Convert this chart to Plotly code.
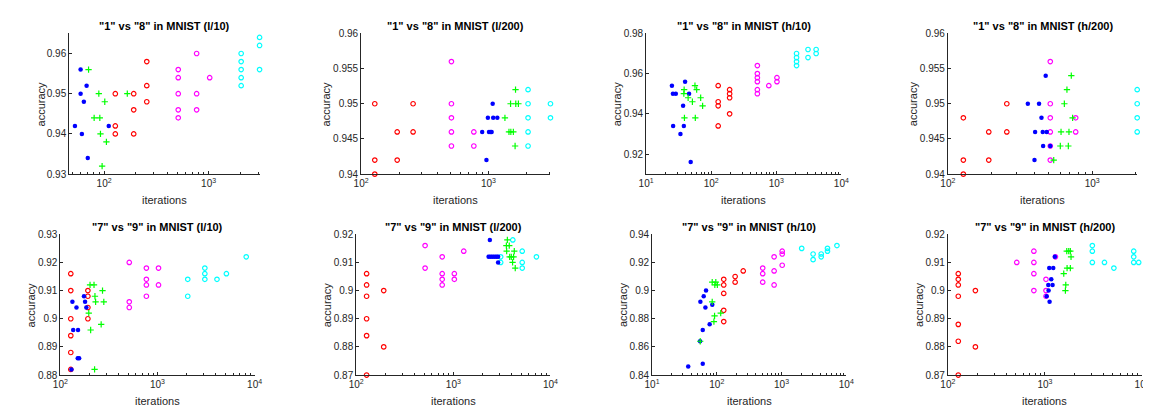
import math
import plotly.graph_objects as go

# ---------------- data ----------------
TITLES = [
    '"1" vs "8" in MNIST (l/10)', '"1" vs "8" in MNIST (l/200)',
    '"1" vs "8" in MNIST (h/10)', '"1" vs "8" in MNIST (h/200)',
    '"7" vs "9" in MNIST (l/10)', '"7" vs "9" in MNIST (l/200)',
    '"7" vs "9" in MNIST (h/10)', '"7" vs "9" in MNIST (h/200)',
]
X_LABEL = "iterations"
Y_LABEL = "accuracy"

# panel 1
P1_BLUE_X = [46.4, 59.6, 68, 59.6, 64, 52.6, 61.3, 69.8, 110.8]
P1_BLUE_Y = [0.956, 0.956, 0.952, 0.950, 0.948, 0.942, 0.940, 0.934, 0.942]
P1_GREEN_X = [71, 89, 101.5, 166.7, 80.3, 91, 92.3, 105.2, 95.7]
P1_GREEN_Y = [0.956, 0.950, 0.948, 0.950, 0.944, 0.944, 0.940, 0.938, 0.932]
P1_RED_X = [128, 128, 128, 192, 192, 192, 256, 256, 256]
P1_RED_Y = [0.950, 0.942, 0.940, 0.950, 0.946, 0.940, 0.958, 0.952, 0.948]
P1_MAG_X = [512, 512, 512, 512, 512, 768, 768, 768, 1024]
P1_MAG_Y = [0.956, 0.954, 0.950, 0.946, 0.944, 0.960, 0.950, 0.946, 0.954]
P1_CYAN_X = [2048, 2048, 2048, 2048, 2048, 3072, 3072, 3072]
P1_CYAN_Y = [0.960, 0.958, 0.956, 0.954, 0.952, 0.964, 0.962, 0.956]

# panel 2
P2_BLUE_X = [1080, 990, 1090, 1175, 893, 1010, 1040, 1060, 965]
P2_BLUE_Y = [0.950, 0.948, 0.948, 0.948, 0.946, 0.946, 0.946, 0.946, 0.942]
P2_GREEN_X = [1633, 1493, 1640, 1720, 1348, 1450, 1500, 1570, 1620]
P2_GREEN_Y = [0.952, 0.950, 0.950, 0.950, 0.948, 0.946, 0.946, 0.946, 0.944]
P2_RED_X = [128, 128, 128, 192, 192, 256, 256]
P2_RED_Y = [0.950, 0.942, 0.940, 0.946, 0.942, 0.950, 0.946]
P2_MAG_X = [512, 512, 512, 512, 512, 768, 768]
P2_MAG_Y = [0.956, 0.950, 0.948, 0.946, 0.944, 0.946, 0.944]
P2_CYAN_X = [2048, 2048, 2048, 2048, 2048, 3072, 3072]
P2_CYAN_Y = [0.952, 0.950, 0.948, 0.946, 0.944, 0.950, 0.948]

# panel 3
P3_BLUE_X = [24.9, 25.8, 28.6, 39.7, 45.7, 37, 26, 38, 33.7, 48.4]
P3_BLUE_Y = [0.954, 0.950, 0.950, 0.956, 0.950, 0.944, 0.934, 0.934, 0.930, 0.916]
P3_GREEN_X = [56.3, 38.4, 59.8, 38, 44.2, 68.9, 51.4, 73.8, 38.8, 57]
P3_GREEN_Y = [0.954, 0.952, 0.952, 0.950, 0.948, 0.948, 0.946, 0.944, 0.938, 0.938]
P3_RED_X = [128, 128, 128, 128, 192, 192, 192, 192]
P3_RED_Y = [0.954, 0.946, 0.944, 0.934, 0.952, 0.950, 0.948, 0.940]
P3_MAG_X = [512, 512, 512, 512, 512, 512, 768, 1024, 1024]
P3_MAG_Y = [0.964, 0.960, 0.958, 0.956, 0.952, 0.950, 0.954, 0.958, 0.956]
P3_CYAN_X = [2048, 2048, 2048, 2048, 3072, 3072, 4096, 4096]
P3_CYAN_Y = [0.970, 0.968, 0.966, 0.964, 0.972, 0.968, 0.972, 0.970]

# panel 4
P4_BLUE_X = [476, 358, 428, 445, 402, 454, 484, 457, 512, 398]
P4_BLUE_Y = [0.954, 0.950, 0.950, 0.948, 0.946, 0.946, 0.946, 0.944, 0.944, 0.942]
P4_GREEN_X = [716, 668, 641, 731, 608, 690, 601, 683, 541]
P4_GREEN_Y = [0.954, 0.952, 0.950, 0.948, 0.946, 0.946, 0.944, 0.944, 0.942]
P4_RED_X = [128, 128, 128, 192, 192, 256, 256]
P4_RED_Y = [0.948, 0.942, 0.940, 0.946, 0.942, 0.950, 0.946]
P4_MAG_X = [512, 512, 512, 512, 512, 512, 768, 768]
P4_MAG_Y = [0.956, 0.950, 0.948, 0.946, 0.944, 0.942, 0.948, 0.946]
P4_CYAN_X = [2048, 2048, 2048, 2048]
P4_CYAN_Y = [0.952, 0.950, 0.948, 0.946]

# panel 5
P5_BLUE_X = [133, 146.5, 135.5, 152, 151, 156, 130, 175, 179.6, 185]
P5_BLUE_Y = [0.906, 0.904, 0.896, 0.896, 0.886, 0.886, 0.882, 0.908, 0.906, 0.904]
P5_GREEN_X = [202, 222, 271.6, 227, 230.6, 280, 196, 263, 205, 225]
P5_GREEN_Y = [0.912, 0.912, 0.910, 0.908, 0.906, 0.906, 0.902, 0.898, 0.896, 0.882]
P5_RED_X = [128, 128, 128, 128, 128, 128, 192, 192, 192, 192]
P5_RED_Y = [0.916, 0.910, 0.900, 0.894, 0.888, 0.882, 0.910, 0.908, 0.904, 0.900]
P5_MAG_X = [512, 512, 512, 768, 768, 768, 768, 1024, 1024]
P5_MAG_Y = [0.920, 0.906, 0.904, 0.918, 0.914, 0.912, 0.908, 0.918, 0.912]
P5_CYAN_X = [2048, 2048, 3072, 3072, 3072, 4096, 5120, 8192]
P5_CYAN_Y = [0.914, 0.908, 0.918, 0.916, 0.914, 0.914, 0.916, 0.922]

# panel 6
P6_BLUE_X = [2377, 2306, 2417, 2530, 2652, 2780, 2890, 2890]
P6_BLUE_Y = [0.918, 0.912, 0.912, 0.912, 0.912, 0.912, 0.912, 0.910]
P6_GREEN_X = [3600, 3515, 3765, 3540, 4240, 3800, 3950, 4170, 4074, 4340]
P6_GREEN_Y = [0.918, 0.916, 0.916, 0.914, 0.914, 0.912, 0.912, 0.912, 0.910, 0.908]
P6_RED_X = [128, 128, 128, 128, 128, 128, 192, 192]
P6_RED_Y = [0.906, 0.902, 0.898, 0.890, 0.884, 0.870, 0.900, 0.880]
P6_MAG_X = [512, 512, 768, 768, 768, 768, 1024, 1024, 1280]
P6_MAG_Y = [0.916, 0.908, 0.912, 0.906, 0.904, 0.902, 0.906, 0.904, 0.914]
P6_CYAN_X = [3072, 3072, 4096, 5120, 5120, 5120, 7168]
P6_CYAN_Y = [0.912, 0.910, 0.918, 0.914, 0.910, 0.908, 0.912]

# panel 7
P7_BLUE_X = [36.2, 60.7, 60.7, 55.8, 62.8, 68.2, 66.7, 77.6, 85.2, 55.2]
P7_BLUE_Y = [0.846, 0.848, 0.872, 0.892, 0.896, 0.900, 0.888, 0.876, 0.890, 0.864]
P7_GREEN_X = [55.5, 85, 85, 96.6, 93.3, 102, 92.4, 90.3, 115]
P7_GREEN_Y = [0.864, 0.892, 0.906, 0.906, 0.904, 0.904, 0.882, 0.878, 0.884]
P7_RED_X = [128, 128, 128, 128, 128, 192, 192, 256]
P7_RED_Y = [0.908, 0.904, 0.898, 0.886, 0.878, 0.910, 0.906, 0.914]
P7_MAG_X = [512, 512, 512, 768, 768, 768, 1024, 1024, 1024]
P7_MAG_Y = [0.916, 0.912, 0.906, 0.924, 0.914, 0.904, 0.928, 0.926, 0.918]
P7_CYAN_X = [2048, 3072, 3072, 4096, 4096, 5120, 5120, 7168]
P7_CYAN_Y = [0.930, 0.926, 0.922, 0.926, 0.924, 0.930, 0.928, 0.932]

# panel 8
P8_BLUE_X = [1264, 1106, 1216, 1160, 1081, 1197, 1089, 1040, 1115]
P8_BLUE_Y = [0.912, 0.908, 0.908, 0.904, 0.902, 0.902, 0.900, 0.898, 0.896]
P8_GREEN_X = [1675, 1755, 1824, 1854, 1688, 1824, 1560, 1636, 1622]
P8_GREEN_Y = [0.914, 0.914, 0.914, 0.912, 0.908, 0.908, 0.906, 0.902, 0.900]
P8_RED_X = [128, 128, 128, 128, 128, 128, 128, 192, 192]
P8_RED_Y = [0.906, 0.904, 0.902, 0.898, 0.888, 0.882, 0.870, 0.900, 0.880]
P8_MAG_X = [512, 768, 768, 768, 768, 1024, 1024, 1024, 1280]
P8_MAG_Y = [0.910, 0.914, 0.910, 0.906, 0.900, 0.904, 0.900, 0.898, 0.912]
P8_CYAN_X = [3072, 3072, 3072, 4096, 5120, 8192, 8192, 8192, 9216]
P8_CYAN_Y = [0.916, 0.914, 0.910, 0.910, 0.908, 0.914, 0.912, 0.910, 0.910]

# axis limits and ticks per panel
X_LIMITS = [(46.4, 3072), (100, 3072), (10, 10000), (100, 2048),
            (100, 10000), (100, 10000), (10, 10000), (100, 10000)]
Y_LIMITS = [(0.93, 0.965), (0.94, 0.96), (0.91, 0.98), (0.94, 0.96),
            (0.88, 0.93), (0.87, 0.92), (0.84, 0.94), (0.87, 0.92)]
Y_TICKS = [
    [0.93, 0.94, 0.95, 0.96],
    [0.94, 0.945, 0.95, 0.955, 0.96],
    [0.92, 0.94, 0.96, 0.98],
    [0.94, 0.945, 0.95, 0.955, 0.96],
    [0.88, 0.89, 0.9, 0.91, 0.92, 0.93],
    [0.87, 0.88, 0.89, 0.9, 0.91, 0.92],
    [0.84, 0.86, 0.88, 0.9, 0.92, 0.94],
    [0.87, 0.88, 0.89, 0.9, 0.91, 0.92],
]
X_TICK_EXPONENTS = [1, 2, 3, 4]

PANEL_SERIES = [
    (P1_BLUE_X, P1_BLUE_Y, P1_GREEN_X, P1_GREEN_Y, P1_RED_X, P1_RED_Y, P1_MAG_X, P1_MAG_Y, P1_CYAN_X, P1_CYAN_Y),
    (P2_BLUE_X, P2_BLUE_Y, P2_GREEN_X, P2_GREEN_Y, P2_RED_X, P2_RED_Y, P2_MAG_X, P2_MAG_Y, P2_CYAN_X, P2_CYAN_Y),
    (P3_BLUE_X, P3_BLUE_Y, P3_GREEN_X, P3_GREEN_Y, P3_RED_X, P3_RED_Y, P3_MAG_X, P3_MAG_Y, P3_CYAN_X, P3_CYAN_Y),
    (P4_BLUE_X, P4_BLUE_Y, P4_GREEN_X, P4_GREEN_Y, P4_RED_X, P4_RED_Y, P4_MAG_X, P4_MAG_Y, P4_CYAN_X, P4_CYAN_Y),
    (P5_BLUE_X, P5_BLUE_Y, P5_GREEN_X, P5_GREEN_Y, P5_RED_X, P5_RED_Y, P5_MAG_X, P5_MAG_Y, P5_CYAN_X, P5_CYAN_Y),
    (P6_BLUE_X, P6_BLUE_Y, P6_GREEN_X, P6_GREEN_Y, P6_RED_X, P6_RED_Y, P6_MAG_X, P6_MAG_Y, P6_CYAN_X, P6_CYAN_Y),
    (P7_BLUE_X, P7_BLUE_Y, P7_GREEN_X, P7_GREEN_Y, P7_RED_X, P7_RED_Y, P7_MAG_X, P7_MAG_Y, P7_CYAN_X, P7_CYAN_Y),
    (P8_BLUE_X, P8_BLUE_Y, P8_GREEN_X, P8_GREEN_Y, P8_RED_X, P8_RED_Y, P8_MAG_X, P8_MAG_Y, P8_CYAN_X, P8_CYAN_Y),
]

# ---------------- layout (pixels) ----------------
W, H = 1151, 407
# (left, right, top, bottom) of each plot area in pixels
BOXES = [
    (54, 247, 20, 165), (350, 542, 20, 165), (639, 837, 20, 165), (945, 1137, 20, 165),
    (45, 242, 227, 372), (345, 542, 227, 372), (645, 842, 227, 372), (945, 1142, 227, 372),
]
YLABEL_X = [25, 314, 609, 909, 15, 315, 615, 915]

FONT = "Liberation Sans, Arial, Helvetica, sans-serif"
INK = "#262626"


def fx(px):
    return px / W


def fy(py):
    return 1 - py / H


fig = go.Figure()
annotations = []
layout = {}

for i in range(8):
    n = i + 1
    xs = "x" if n == 1 else f"x{n}"
    ys = "y" if n == 1 else f"y{n}"
    bx, by_, gx, gy, rx, ry, mx, my, cx, cy = PANEL_SERIES[i]
    open_specs = [(rx, ry, "#FF0000"), (mx, my, "#FF00FF"), (cx, cy, "#00FFFF")]
    for sx, sy, col in open_specs:
        fig.add_trace(go.Scatter(
            x=sx, y=sy, mode="markers", xaxis=xs, yaxis=ys, showlegend=False, cliponaxis=False,
            marker=dict(symbol="circle-open", size=4.5, color=col, line=dict(width=1.2, color=col)),
        ))
    fig.add_trace(go.Scatter(
        x=bx, y=by_, mode="markers", xaxis=xs, yaxis=ys, showlegend=False, cliponaxis=False,
        marker=dict(symbol="circle", size=4.5, color="#0000FF", line=dict(width=0)),
    ))
    fig.add_trace(go.Scatter(
        x=gx, y=gy, mode="markers", xaxis=xs, yaxis=ys, showlegend=False, cliponaxis=False,
        marker=dict(symbol="cross-thin-open", size=4.5, color="#00FF00", line=dict(width=1.2, color="#00FF00")),
    ))

    l, r, t, b = BOXES[i]
    x0, x1 = X_LIMITS[i]
    lx0, lx1 = math.log10(x0), math.log10(x1)
    major = [10 ** e for e in X_TICK_EXPONENTS if lx0 - 1e-9 <= e <= lx1 + 1e-9]
    minor = []
    for e in range(int(math.floor(lx0)), int(math.ceil(lx1)) + 1):
        for m in range(2, 10):
            v = m * 10 ** e
            if x0 <= v <= x1:
                minor.append(v)
    xkey = "xaxis" if n == 1 else f"xaxis{n}"
    ykey = "yaxis" if n == 1 else f"yaxis{n}"
    layout[xkey] = dict(
        type="log", domain=[fx(l), fx(r)], range=[lx0, lx1], anchor=ys,
        showgrid=False, zeroline=False, showline=True, linecolor=INK, linewidth=1,
        ticks="inside", ticklen=3, tickcolor=INK, tickwidth=1,
        tickmode="array", tickvals=major,
        ticktext=[f"10<sup>{int(round(math.log10(v)))}</sup>" for v in major],
        tickfont=dict(family=FONT, size=10, color=INK),
        minor=dict(tickmode="array", tickvals=minor, ticks="inside", ticklen=2,
                   tickcolor=INK, tickwidth=1, showgrid=False),
        fixedrange=True,
    )
    y0, y1 = Y_LIMITS[i]
    layout[ykey] = dict(
        domain=[fy(b), fy(t)], range=[y0, y1], anchor=xs,
        showgrid=False, zeroline=False, showline=True, linecolor=INK, linewidth=1,
        ticks="inside", ticklen=3, tickcolor=INK, tickwidth=1,
        tickmode="array", tickvals=Y_TICKS[i], ticktext=[f"{v:g}" for v in Y_TICKS[i]],
        tickfont=dict(family=FONT, size=10, color=INK),
        fixedrange=True,
    )
    cxp = (l + r) / 2
    annotations.append(dict(
        text=f"<b>{TITLES[i]}</b>", x=fx(cxp), y=fy(t - 8), xref="paper", yref="paper",
        xanchor="center", yanchor="middle", showarrow=False,
        font=dict(family=FONT, size=11, color="#000000"),
    ))
    annotations.append(dict(
        text=X_LABEL, x=fx(cxp), y=fy(b + 27), xref="paper", yref="paper",
        xanchor="center", yanchor="middle", showarrow=False,
        font=dict(family=FONT, size=11, color=INK),
    ))
    annotations.append(dict(
        text=Y_LABEL, x=fx(YLABEL_X[i]), y=fy((t + b) / 2), xref="paper", yref="paper",
        xanchor="center", yanchor="middle", showarrow=False, textangle=-90,
        font=dict(family=FONT, size=11, color=INK),
    ))

fig.update_layout(
    width=W, height=H, margin=dict(l=0, r=0, t=0, b=0),
    paper_bgcolor="white", plot_bgcolor="white",
    annotations=annotations, showlegend=False,
    **layout,
)

fig.write_html("out.html", config={"displayModeBar": False})
